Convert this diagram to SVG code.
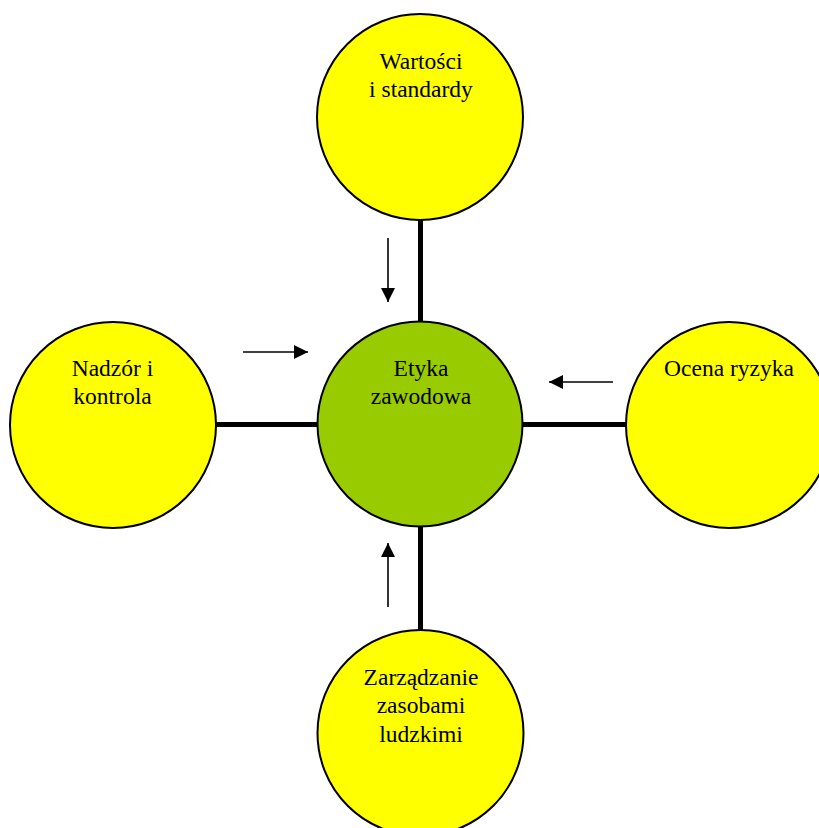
<svg xmlns="http://www.w3.org/2000/svg" width="819" height="828" viewBox="0 0 819 828">
<style>
.outer{fill:#FFFF00;stroke:#000;stroke-width:2}
.core{fill:#99CC00;stroke:#000;stroke-width:2}
.lbl{font-family:"Liberation Serif","Times New Roman",serif;font-size:23.5px;fill:#000;text-anchor:middle}
.link{stroke:#000;stroke-width:5;fill:none}
.flow{stroke:#000;stroke-width:1.6;fill:none;marker-end:url(#ah)}
</style>
<defs>
<marker id="ah" viewBox="0 0 10 10" refX="10" refY="5" markerWidth="9" markerHeight="9" markerUnits="strokeWidth" orient="auto">
<path d="M0,0 L10,5 L0,10 z" fill="#000"/>
</marker>
</defs>
<rect width="819" height="828" fill="#fff"/>
<g id="connectors">
<line class="link" x1="420.5" y1="219" x2="420.5" y2="322"/>
<line class="link" x1="420.5" y1="526" x2="420.5" y2="630"/>
<line class="link" x1="215" y1="424.5" x2="319" y2="424.5"/>
<line class="link" x1="521" y1="424.5" x2="627" y2="424.5"/>
<line class="flow" x1="388" y1="238" x2="388" y2="302"/>
<line class="flow" x1="388" y1="607" x2="388" y2="543"/>
<line class="flow" x1="243" y1="352" x2="308" y2="352"/>
<line class="flow" x1="613" y1="382" x2="549" y2="382"/>
</g>
<g id="node-wartosci">
<circle class="outer" cx="420" cy="117" r="103"/>
<text class="lbl" x="421" y="69">Wartości</text>
<text class="lbl" x="421" y="97">i standardy</text>
</g>
<g id="node-nadzor">
<circle class="outer" cx="113" cy="425" r="103"/>
<text class="lbl" x="112.5" y="376">Nadzór i</text>
<text class="lbl" x="112.5" y="404">kontrola</text>
</g>
<g id="node-ocena">
<circle class="outer" cx="729" cy="425" r="103"/>
<text class="lbl" x="729" y="376">Ocena ryzyka</text>
</g>
<g id="node-zarzadzanie">
<circle class="outer" cx="420.5" cy="733" r="103"/>
<text class="lbl" x="421" y="685">Zarządzanie</text>
<text class="lbl" x="421" y="713">zasobami</text>
<text class="lbl" x="421" y="742">ludzkimi</text>
</g>
<g id="node-etyka">
<circle class="core" cx="420" cy="424" r="102.5"/>
<text class="lbl" x="421" y="376">Etyka</text>
<text class="lbl" x="421" y="404">zawodowa</text>
</g>
</svg>
